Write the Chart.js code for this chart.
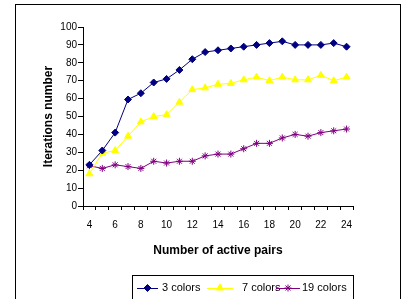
<!DOCTYPE html>
<html>
<head>
<meta charset="utf-8">
<script src="https://cdn.jsdelivr.net/npm/chart.js@4.4.1/dist/chart.umd.min.js"></script>
<style>
  html, body { margin: 0; padding: 0; background: #fff; }
  #wrap { width: 402px; height: 299px; position: relative; }
</style>
</head>
<body>
<div id="wrap"><canvas id="chart"></canvas></div>
<script>
// Chart data
const activePairs = [4, 5, 6, 7, 8, 9, 10, 11, 12, 13, 14, 15, 16, 17, 18, 19, 20, 21, 22, 23, 24];
const threeColors = [23, 31, 41, 59.5, 63, 69, 71, 76, 82, 86, 87, 88, 89, 90, 91, 92, 90, 90, 90, 91, 89];
const sevenColors = [18, 29.5, 31, 39, 47, 50, 51, 58, 65, 66, 68, 68.5, 70.5, 72, 70, 72, 70.5, 70.5, 73, 70, 72];
const nineteenColors = [22.5, 21, 23, 22, 21, 25, 24, 25, 25, 28, 29, 29, 32, 35, 35, 38, 40, 39, 41, 42, 43];
const seriesNames = ["3 colors", "7 colors", "19 colors"];
const yTicks = [0, 10, 20, 30, 40, 50, 60, 70, 80, 90, 100];

const font = "'Liberation Sans', Arial, sans-serif";

// Frame round the whole picture and the boxed legend underneath
const framePlugin = {
    id: "frame",
    afterDraw(chart) {
        const ctx = chart.ctx;
        ctx.save();
        ctx.strokeStyle = "#000";
        ctx.lineWidth = 1;
        ctx.strokeRect(15.5, 4.5, 385, 310);

        // legend box
        ctx.strokeRect(132.5, 275.5, 221, 30);
        const entries = [
            { x1: 137, x2: 158, tx: 162 },
            { x1: 207, x2: 233, tx: 242 },
            { x1: 276, x2: 300, tx: 302 }
        ];
        const y = 288;
        ctx.font = "11px " + font;
        ctx.textBaseline = "middle";
        chart.data.datasets.forEach(function (ds, i) {
            const e = entries[i];
            ctx.strokeStyle = ds.borderColor;
            ctx.fillStyle = ds.backgroundColor;
            ctx.lineWidth = 1;
            ctx.beginPath();
            ctx.moveTo(e.x1, y + 0.5);
            ctx.lineTo(e.x2, y + 0.5);
            ctx.stroke();
            Chart.helpers.drawPoint(ctx, {
                pointStyle: ds.pointStyle,
                radius: ds.pointRadius,
                borderWidth: 1,
                rotation: 0
            }, (e.x1 + e.x2) / 2, y);
            ctx.fillStyle = "#000";
            ctx.fillText(ds.label, e.tx, y);
        });
        ctx.restore();
    }
};

// Dataset helper
function makeSeries(label, values, color, style, radius) {
    return {
        label: label,
        data: values,
        borderColor: color,
        backgroundColor: color,
        pointBackgroundColor: color,
        pointBorderColor: color,
        pointStyle: style,
        pointRadius: radius,
        pointHoverRadius: radius,
        borderWidth: 1,
        pointBorderWidth: 1,
        tension: 0
    };
}

const data = {
    labels: activePairs,
    datasets: [
        makeSeries(seriesNames[0], threeColors, "#000080", "rectRot", 3.5),
        makeSeries(seriesNames[1], sevenColors, "#FFFF00", "triangle", 4),
        makeSeries(seriesNames[2], nineteenColors, "#800080", "star", 3.5)
    ]
};

const options = {
    responsive: false,
    animation: false,
    devicePixelRatio: 1,
    layout: { padding: { left: 0, top: 27, right: 49, bottom: 33 } },
    plugins: {
        legend: { display: false },
        tooltip: { enabled: false }
    },
    scales: {
        x: {
            type: "category",
            offset: true,
            border: { display: true, color: "#000", width: 1 },
            grid: {
                offset: true,
                drawOnChartArea: false,
                drawTicks: true,
                tickLength: 4,
                color: "#000"
            },
            ticks: {
                autoSkip: false,
                maxRotation: 0,
                padding: 9,
                color: "#000",
                font: { family: font, size: 10 },
                callback: function (value, index) {
                    return index % 2 === 0 ? activePairs[index] : "";
                }
            },
            title: {
                display: true,
                text: "Number of active pairs",
                color: "#000",
                font: { family: font, size: 12, weight: "bold" },
                padding: { top: 0, bottom: 8 }
            },
            afterFit: function (scale) { scale.height = 60; }
        },
        y: {
            min: 0,
            max: 100,
            border: { display: true, color: "#000", width: 1 },
            grid: {
                drawOnChartArea: false,
                drawTicks: true,
                tickLength: 5,
                color: "#000"
            },
            afterBuildTicks: function (scale) {
                scale.ticks = yTicks.map(function (v) { return { value: v }; });
            },
            ticks: {
                padding: 1,
                color: "#000",
                font: { family: font, size: 10 }
            },
            title: {
                display: true,
                text: "Iterations number",
                color: "#000",
                font: { family: font, size: 12, weight: "bold" },
                padding: { top: 41, bottom: 0 }
            },
            afterFit: function (scale) { scale.width = 83; }
        }
    }
};

const canvas = document.getElementById("chart");
canvas.width = 402;
canvas.height = 299;
new Chart(canvas.getContext("2d"), {
    type: "line",
    data: data,
    options: options,
    plugins: [framePlugin]
});
</script>
</body>
</html>
